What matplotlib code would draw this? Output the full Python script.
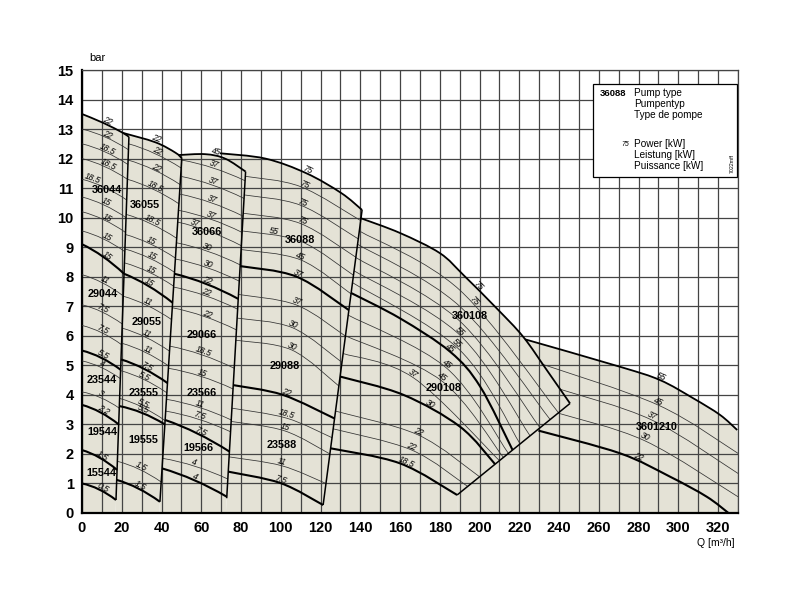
import numpy as np
import matplotlib
matplotlib.use("Agg")
import matplotlib.pyplot as plt
from matplotlib.path import Path
from matplotlib.patches import PathPatch, Rectangle

plt.rcParams['font.family'] = ['Liberation Sans', 'DejaVu Sans']

FILL = '#e4e2d6'

# column boundaries, (Q, H) top point -> bottom point
edge1 = [(23.6, 12.73), (17.1, 0.44)]
edge2 = [(50.2, 12.01), (39.2, 0.38)]
edge3 = [(82.3, 11.56), (72.8, 0.50)]
edge4 = [(140.9, 10.26), (121.3, 0.27)]
vline5 = [(245.5, 3.71), (188.7, 0.61)]

# top curve of every column
top1 = [(0, 13.51), (11, 13.2), (20.6, 12.87), (23.6, 12.73)]
top2 = [(20.6, 12.87), (37, 12.55), (47, 12.2), (50.2, 12.01)]
top3 = [(48.5, 12.12), (62, 12.15), (72, 12.0), (82.3, 11.56)]
top4 = [(69.4, 12.18), (92.3, 12.0), (113, 11.5), (130.5, 10.83), (140.9, 10.26)]
top5 = [(139.9, 9.99), (160, 9.48), (180, 8.8), (192, 8.05), (208.6, 6.93),
        (221.9, 5.97), (233.8, 4.84), (245.5, 3.71)]
top6 = [(222.9, 5.88), (270.7, 4.95), (290.8, 4.5), (307.6, 3.88), (321, 3.32), (329.6, 2.81)]
top_kw = ['22', '22', '45', '75', '75', '55']
top_labq = [13, 37.6, 67.8, 113.4, 199.4, 291.7]

# column 44: head at Q=0 and at the right edge
c1_hl = [13.0, 12.5, 12.0, 11.3, 10.7, 10.2, 9.55, 9.1, 8.07, 7.05, 6.35, 5.5, 5.15, 4.1, 3.66, 2.13, 1.0]
c1_hr = [12.3, 11.8, 11.3, 10.6, 10.0, 9.5, 8.85, 8.1, 7.35, 6.4, 5.7, 4.85, 4.55, 3.55, 3.0, 1.46, 0.44]
c1_kw = ['22', '18.5', '18.5', '18.5', '15', '15', '15', '15', '11', '7.5', '7.5', '5.5', '4', '3', '2.2', '1.5', '0.5']
c1_thick = [0, 0, 0, 0, 0, 0, 0, 1, 0, 0, 0, 1, 0, 0, 1, 1, 1]
c1_labq = [13, 13, 13, 5.5, 12.6, 12.6, 12.6, 12.6, 11.6, 10.6, 10.6, 10.6, 10, 10, 10.6, 10.6, 10.6]

# column 55
c2_hl = [12.5, 11.95, 11.3, 10.11, 9.43, 8.94, 8.47, 8.1, 7.34, 6.26, 5.75, 5.2, 4.82, 3.88, 3.62, 1.75, 1.12]
c2_hr = [11.68, 11.12, 10.47, 9.30, 8.63, 8.15, 7.68, 7.12, 6.55, 5.48, 4.98, 4.4, 4.07, 3.13, 3.0, 1.05, 0.38]
c2_kw = ['22', '22', '18.5', '18.5', '15', '15', '15', '15', '11', '11', '11', '7.5', '5.5', '5.5', '5.5', '1.5', '1.5']
c2_thick = [0, 0, 0, 0, 0, 0, 0, 1, 0, 0, 0, 1, 0, 0, 1, 0, 1]
c2_labq = [37.6, 37.6, 36.7, 35.1, 35.1, 35.1, 35.1, 34.2, 33.4, 32.6, 32.6, 32.6, 31.7, 30.8, 30.8, 30.0, 29.2]

# column 66
c3_hl = [11.95, 11.4, 10.8, 10.25, 9.85, 9.15, 8.6, 8.1, 7.65, 6.95, 5.65, 4.9, 3.85, 3.45, 3.15, 1.85, 1.51]
c3_hr = [11.25, 10.65, 10.05, 9.5, 9.05, 8.4, 7.85, 7.25, 6.9, 6.2, 4.9, 4.2, 3.15, 2.75, 2.08, 1.15, 0.55]
c3_kw = ['37', '37', '37', '37', '37', '30', '30', '22', '22', '22', '18.5', '15', '11', '7.5', '7.5', '4', '4']
c3_thick = [0, 0, 0, 0, 0, 0, 0, 1, 0, 0, 0, 0, 0, 0, 1, 0, 1]
c3_labq = [66.9, 66.1, 65.6, 65.3, 56.9, 63.5, 63.5, 63.5, 62.7, 62.7, 61, 60.2, 59.4, 59.4, 59.4, 56.9, 56.9]

# column 88: left head, one read point inside, right head
c4_hl = [11.4, 10.77, 10.15, 9.55, 8.92, 8.36, 7.4, 6.6, 5.85, 4.33, 3.55, 3.1, 1.9, 1.40]
c4_qm = [110, 110, 110, 110, 110, 108, 108, 106, 105.5, 101, 103, 102, 100.5, 100]
c4_hm = [11.05, 10.42, 9.8, 9.2, 8.57, 8.0, 7.04, 6.27, 5.52, 4.0, 3.21, 2.78, 1.60, 1.01]
c4_hr = [9.9, 9.28, 8.66, 8.05, 7.42, 6.87, 5.99, 5.1, 4.3, 3.2, 2.55, 2.0, 1.0, 0.27]
c4_kw = ['75', '75', '75', '55', '45', '37', '37', '30', '30', '22', '18.5', '15', '11', '7.5']
c4_thick = [0, 0, 0, 0, 0, 1, 0, 0, 0, 1, 0, 0, 0, 1]
c4_labq = [112.2, 111.3, 110.5, 96.2, 110, 109, 108, 106.3, 105.5, 103, 103, 102, 100.5, 100]

# column 108: head at the left edge, read points, Q where it meets the lower edge
c5_h0 = [9.55, 9.1, 8.65, 8.2, 7.8, 7.45, 6.7, 6.0, 5.4, 4.62, 3.45, 2.85, 2.19]
c5_mid = [[(190, 7.55)], [(190, 7.0)], [(190, 6.5)], [(190, 6.03)], [(190, 5.52)],
          [(160, 6.59), (185.2, 5.46), (200.3, 4.28)], [(183.5, 4.90)], [(181, 4.47)],
          [(166.7, 4.58)], [(161.7, 4.0), (190.2, 2.92)], [(169.2, 2.64)], [(165.9, 2.13)],
          [(160, 1.68)]]
c5_qend = [239.7, 235.5, 230.4, 225.4, 220.4, 216.6, 214.5, 212, 210, 207.8, 200, 194, 188.7]
c5_kw = ['75', '', '', '55', '55', '45', '45', '45', '37', '30', '22', '22', '18.5']
c5_thick = [0, 0, 0, 0, 0, 1, 0, 0, 0, 1, 0, 0, 1]
c5_labq = [196.9, 0, 0, 190.2, 187.7, 185.2, 183.5, 181, 166.7, 175.1, 169.2, 165.9, 163.4]

# column 1210
c6_pts = [[(231, 5.05), (290, 3.65), (330, 2.02)],
          [(240.5, 4.19), (286.6, 3.15), (330, 1.34)],
          [(239.6, 3.38), (283.3, 2.44), (330, 0.55)],
          [(229.6, 2.79), (270.7, 2.02), (295.8, 1.23), (314.3, 0.55), (325.2, 0)]]
c6_kw = ['45', '37', '30', '22']
c6_thick = [0, 0, 0, 1]
c6_labq = [290, 286.6, 283.3, 279.9]

# pump type names
fam_names = ['36044', '29044', '23544', '19544', '15544', '36055', '29055', '23555', '19555',
             '36066', '29066', '23566', '19566', '36088', '29088', '23588', '360108', '290108', '3601210']
fam_q = [12.4, 10.6, 10.0, 10.1, 9.6, 31.7, 32.6, 30.8, 30.8, 62.7, 60.2, 60.2, 58.5,
         109.7, 102.1, 100.5, 195.2, 181.8, 289.2]
fam_h = [10.94, 7.42, 4.50, 2.74, 1.35, 10.43, 6.48, 4.07, 2.47, 9.53, 6.03, 4.05, 2.19,
         9.24, 4.98, 2.30, 6.68, 4.22, 2.92]

x_ticks = np.arange(0, 321, 20)
y_ticks = np.arange(0, 16, 1)


def q_on(edge, h):
    (qt, ht), (qb, hb) = edge
    return qb + (h - hb) * (qt - qb) / (ht - hb)


def h_on(line, q):
    (qt, ht), (qb, hb) = line
    return hb + (q - qb) * (ht - hb) / (qt - qb)


def segments(pts):
    p = np.asarray(pts, float)
    n = len(p)
    segs = []
    for i in range(n - 1):
        a = p[i - 1] if i > 0 else p[i]
        d = p[i + 2] if i + 2 < n else p[i + 1]
        segs.append((p[i], p[i] + (p[i + 1] - a) / 6, p[i + 1] - (d - p[i]) / 6, p[i + 1]))
    return segs


def bow_segments(p0, p1, bow=0.08):
    p0, p1 = np.asarray(p0, float), np.asarray(p1, float)
    c = (p0 + p1) / 2 + np.array([0, 2 * bow])
    return [(p0, p0 + 2 / 3 * (c - p0), p1 + 2 / 3 * (c - p1), p1)]


def to_path(segs):
    verts = [segs[0][0]]
    codes = [Path.MOVETO]
    for s in segs:
        verts += [s[1], s[2], s[3]]
        codes += [Path.CURVE4] * 3
    return verts, codes


def sample(segs, n=30):
    t = np.linspace(0, 1, n)[:, None]
    return np.vstack([(1 - t) ** 3 * a + 3 * (1 - t) ** 2 * t * b + 3 * (1 - t) * t ** 2 * c + t ** 3 * d
                      for a, b, c, d in segs])


fig = plt.figure(figsize=(8, 6), dpi=100)
ax = fig.add_axes([82 / 800, 87 / 600, 656 / 800, 443 / 600])
ax.set_xlim(0, 330)
ax.set_ylim(0, 15)


def put_label(segs, q, text):
    pts = sample(segs)
    i = int(np.argmin(np.abs(pts[:, 0] - q)))
    j0, j1 = max(i - 2, 0), min(i + 2, len(pts) - 1)
    d = ax.transData.transform(pts[[j0, j1]])
    ang = np.degrees(np.arctan2(d[1, 1] - d[0, 1], d[1, 0] - d[0, 0]))
    ax.text(pts[i, 0], pts[i, 1] + 0.13, text, rotation=ang, rotation_mode='anchor',
            ha='center', va='center', fontsize=6.2, style='italic', zorder=6)


def draw(segs, thick, kw='', labq=None, lw=None):
    v, c = to_path(segs)
    if lw is None:
        lw = 1.5 if thick else 0.55
    ax.add_patch(PathPatch(Path(v, c), fill=False, lw=lw,
                           ec='black' if thick else '#333333', zorder=4 if thick else 3))
    if kw:
        put_label(segs, labq, kw)


def fill_col(top, tail):
    v, c = to_path(segments(top))
    v += [np.asarray(p, float) for p in tail]
    c += [Path.LINETO] * len(tail)
    v.append(v[0])
    c.append(Path.CLOSEPOLY)
    ax.add_patch(PathPatch(Path(v, c), fc=FILL, ec='none', zorder=1))


# shaded area
fill_col(top1, [(q_on(edge1, 0), 0), (0, 0)])
fill_col(top2, [(q_on(edge2, 0), 0), (q_on(edge1, 0), 0), edge1[0]])
fill_col(top3, [(q_on(edge3, 0), 0), (q_on(edge2, 0), 0), edge2[0]])
fill_col(top4, [(q_on(edge4, 0), 0), (q_on(edge3, 0), 0), edge3[0]])
fill_col(top5, [vline5[1], (vline5[1][0], 0), (q_on(edge4, 0), 0)])
fill_col(top6, [(330, 0), (vline5[1][0], 0), vline5[1], vline5[0]])

# top curves
for top, kw, lq in zip([top1, top2, top3, top4, top5, top6], top_kw, top_labq):
    draw(segments(top), 1, kw, lq, lw=1.3)

# column edges
for e in [edge1, edge2, edge3, edge4, vline5]:
    ax.plot([e[0][0], e[1][0]], [e[0][1], e[1][1]], color='black', lw=1.1, zorder=4,
            solid_capstyle='butt')

# curves
for hl, hr, kw, th, lq in zip(c1_hl, c1_hr, c1_kw, c1_thick, c1_labq):
    draw(bow_segments((0, hl), (q_on(edge1, hr), hr)), th, kw, lq)
for hl, hr, kw, th, lq in zip(c2_hl, c2_hr, c2_kw, c2_thick, c2_labq):
    draw(bow_segments((q_on(edge1, hl), hl), (q_on(edge2, hr), hr)), th, kw, lq)
for hl, hr, kw, th, lq in zip(c3_hl, c3_hr, c3_kw, c3_thick, c3_labq):
    draw(bow_segments((q_on(edge2, hl), hl), (q_on(edge3, hr), hr)), th, kw, lq)
for hl, qm, hm, hr, kw, th, lq in zip(c4_hl, c4_qm, c4_hm, c4_hr, c4_kw, c4_thick, c4_labq):
    draw(segments([(q_on(edge3, hl), hl), (qm, hm), (q_on(edge4, hr), hr)]), th, kw, lq)
for h0, mid, qe, kw, th, lq in zip(c5_h0, c5_mid, c5_qend, c5_kw, c5_thick, c5_labq):
    draw(segments([(q_on(edge4, h0), h0)] + mid + [(qe, h_on(vline5, qe))]), th, kw, lq)
for pts, kw, th, lq in zip(c6_pts, c6_kw, c6_thick, c6_labq):
    draw(segments(pts), th, kw, lq)

for name, q, h in zip(fam_names, fam_q, fam_h):
    ax.text(q, h, name, fontsize=7.8, fontweight='bold', ha='center', va='center', zorder=7)

# grid and axes
ax.set_xticks(x_ticks)
ax.set_xticks(np.arange(0, 331, 10), minor=True)
ax.set_yticks(y_ticks)
ax.grid(which='both', color='#444444', lw=0.9)
ax.tick_params(which='both', length=0, labelsize=10.5, pad=6)
for t in ax.get_xticklabels() + ax.get_yticklabels():
    t.set_fontweight('bold')
for s in ['left', 'bottom']:
    ax.spines[s].set_linewidth(1.6)
for s in ['top', 'right']:
    ax.spines[s].set_linewidth(0.9)
    ax.spines[s].set_color('#444444')

# legend box
ax.add_patch(Rectangle((0.7785, 0.7578), 0.2195, 0.2106, transform=ax.transAxes,
                       fc='white', ec='black', lw=0.9, zorder=8))
fig.text(600 / 800, 1 - 93 / 600, '36088', fontsize=6.8, fontweight='bold', va='center')
for y, s in zip([93, 104, 115], ['Pump type', 'Pumpentyp', 'Type de pompe']):
    fig.text(634 / 800, 1 - y / 600, s, fontsize=7.2, va='center')
fig.text(629 / 800, 1 - 144 / 600, '75', fontsize=5, style='italic', ha='right', va='center')
for y, s in zip([144, 155, 166], ['Power [kW]', 'Leistung [kW]', 'Puissance [kW]']):
    fig.text(634 / 800, 1 - y / 600, s, fontsize=7.2, va='center')
fig.text(732 / 800, 1 - 163 / 600, '7022mff', fontsize=3.8, rotation=90, ha='center', va='center')

fig.text(97 / 800, 1 - 58 / 600, 'bar', fontsize=8, ha='center', va='center')
fig.text(735 / 800, 1 - 543 / 600, 'Q [m³/h]', fontsize=7.5, ha='right', va='center')

fig.savefig('out.png', dpi=100)
